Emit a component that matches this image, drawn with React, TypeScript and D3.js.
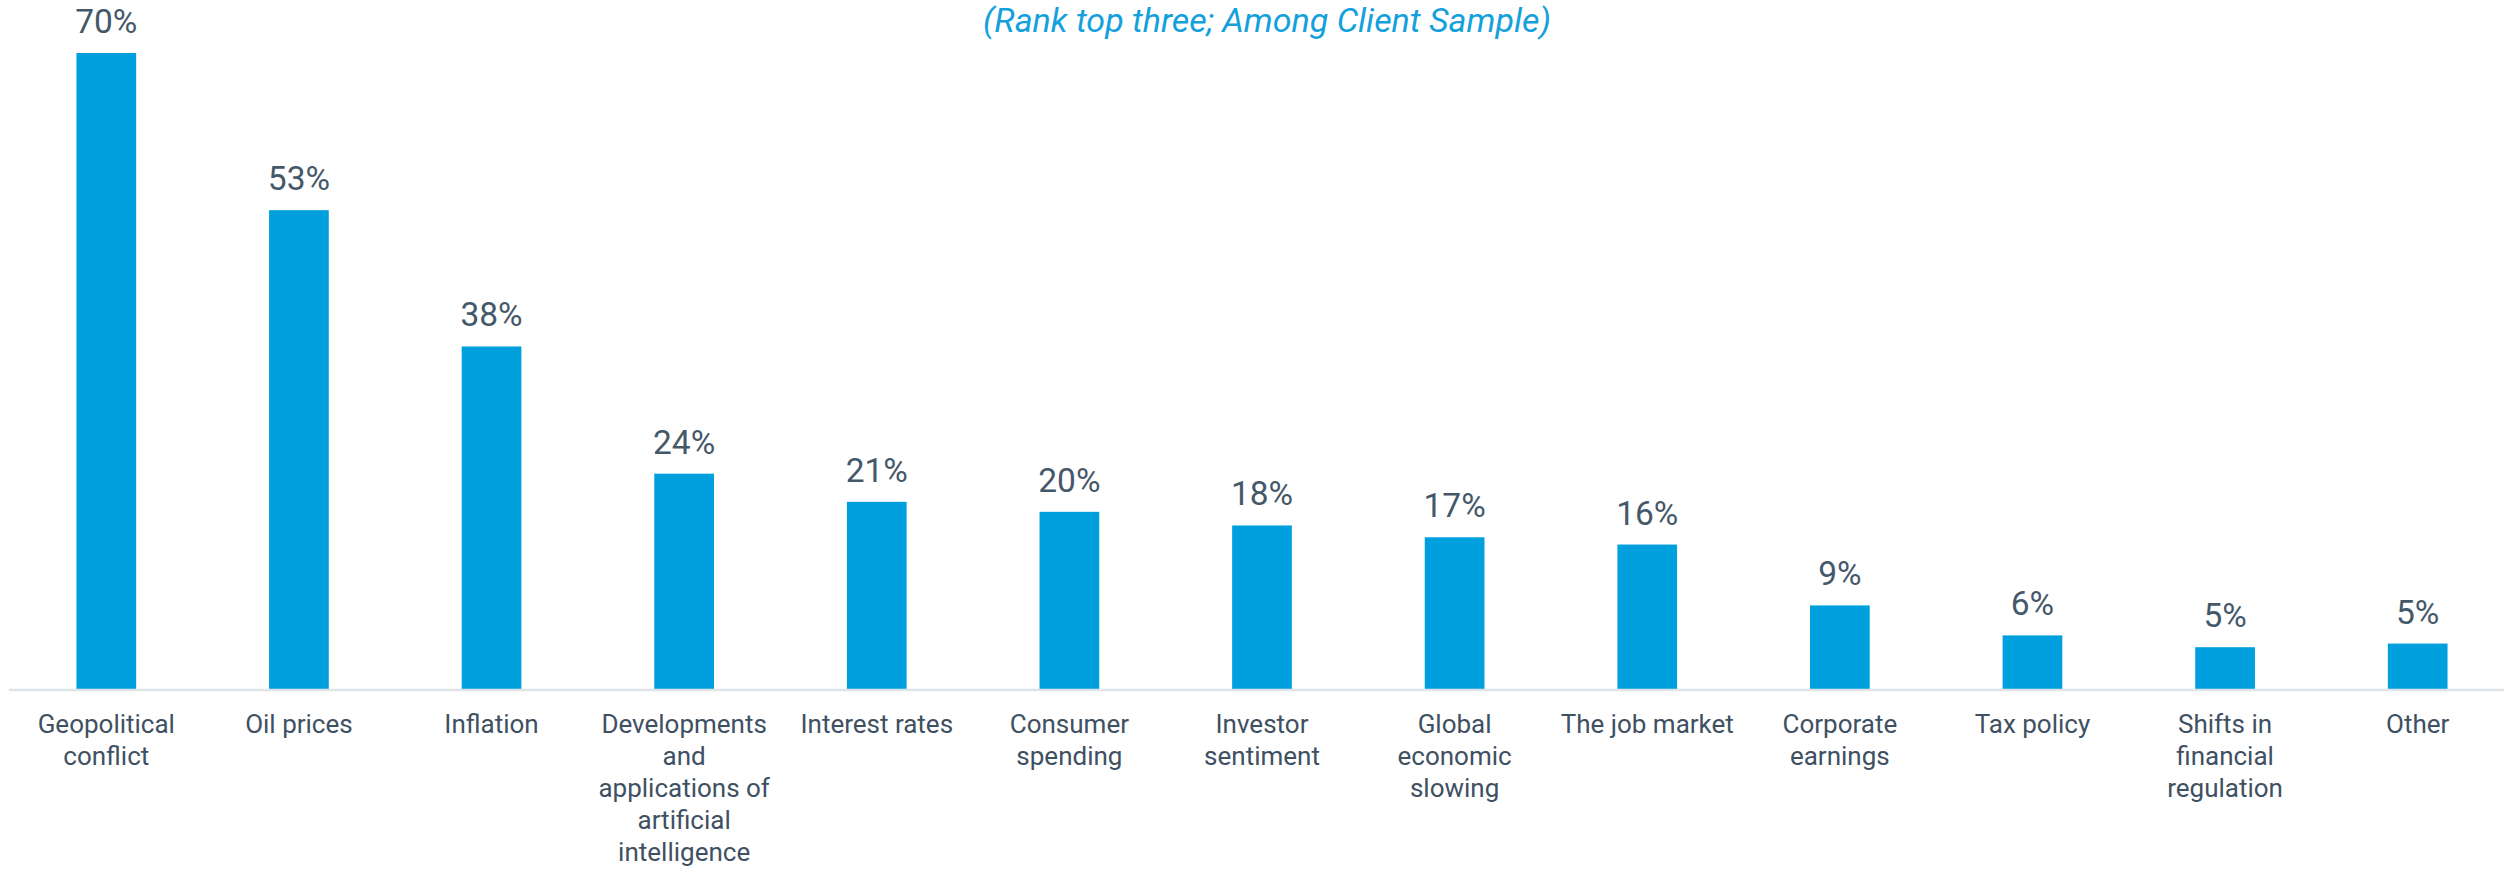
import React from "react";
import * as d3 from "d3";

const categories: string[] = [
  "Geopolitical\nconflict",
  "Oil prices",
  "Inflation",
  "Developments\nand\napplications of\nartificial\nintelligence",
  "Interest rates",
  "Consumer\nspending",
  "Investor\nsentiment",
  "Global\neconomic\nslowing",
  "The job market",
  "Corporate\nearnings",
  "Tax policy",
  "Shifts in\nfinancial\nregulation",
  "Other",
];

const values: number[] = [70, 52.7, 37.7, 23.7, 20.6, 19.5, 18.0, 16.7, 15.9, 9.2, 5.9, 4.6, 5.0];

const subtitle = "(Rank top three; Among Client Sample)";

const W = 2504;
const H = 869;
const BASE = 689;
const TOP = 53;

export default function App() {
  const x = d3
    .scaleBand<number>()
    .domain(d3.range(categories.length))
    .range([10, 2514])
    .paddingInner(0.69)
    .paddingOuter(0.345);
  const y = d3.scaleLinear().domain([0, 70]).range([BASE, TOP]);
  const fmt = d3.format(".0f");
  const font = "Roboto, 'Noto Sans', sans-serif";

  return (
    <svg
      width={W}
      height={H}
      style={{ position: "absolute", left: 0, top: 0, background: "#fff" }}
      fontFamily={font}
    >
      <text
        x={1267}
        y={32}
        textAnchor="middle"
        fontSize={34}
        fontStyle="italic"
        fill="#13a0dc"
      >
        {subtitle}
      </text>
      {values.map((v, i) => (
        <rect
          key={"b" + i}
          x={x(i)}
          y={y(v)}
          width={x.bandwidth()}
          height={BASE - y(v)}
          fill="#00a0df"
        />
      ))}
      <line x1={9} x2={W} y1={690} y2={690} stroke="#dfe4e8" strokeWidth={2.5} />
      {values.map((v, i) => (
        <text
          key={"v" + i}
          x={(x(i) as number) + x.bandwidth() / 2}
          y={y(v) - 20}
          textAnchor="middle"
          fontSize={33.5}
          fill="#45586a"
        >
          {fmt(v) + "%"}
        </text>
      ))}
      {categories.map((c, i) => (
        <text
          key={"c" + i}
          x={(x(i) as number) + x.bandwidth() / 2}
          y={733}
          textAnchor="middle"
          fontSize={26}
          fill="#3e5062"
        >
          {c.split("\n").map((line, j) => (
            <tspan key={j} x={(x(i) as number) + x.bandwidth() / 2} dy={j === 0 ? 0 : 32}>
              {line}
            </tspan>
          ))}
        </text>
      ))}
    </svg>
  );
}
